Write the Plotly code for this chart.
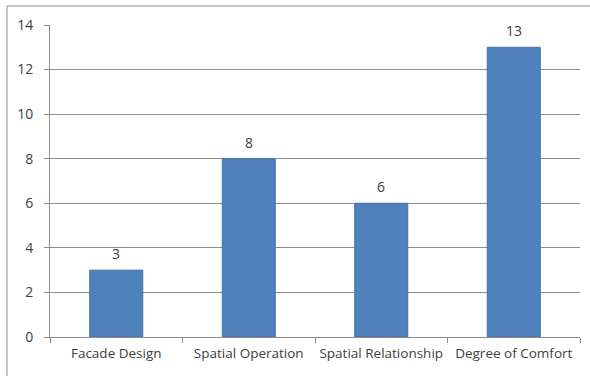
import plotly.graph_objects as go

categories = ["Facade Design", "Spatial Operation", "Spatial Relationship", "Degree of Comfort"]
values = [3, 8, 6, 13]
y_ticks = [0, 2, 4, 6, 8, 10, 12, 14]

W, H = 590, 376
L, R, T, B = 50, 10, 25, 39
pw, ph = W - L - R, H - T - B

fig = go.Figure(go.Bar(
    x=categories, y=values, width=0.4,
    marker=dict(color="#4F81BD", line=dict(color="#3F71AD", width=1)),
    cliponaxis=False,
))

for c, v in zip(categories, values):
    fig.add_annotation(x=c, y=v, text=str(v), showarrow=False,
                       yanchor="bottom", yshift=5,
                       font=dict(family="Open Sans", size=14, color="#404040"))

def px(x):
    return (x - L) / pw

def py(y):
    return (H - B - y) / ph

fig.add_shape(type="rect", xref="paper", yref="paper",
              x0=px(7), x1=px(596), y0=py(382), y1=py(6),
              line=dict(color="#8c8c8c", width=1), layer="below")

fig.update_layout(
    width=W, height=H, margin=dict(l=L, r=R, t=T, b=B),
    paper_bgcolor="white", plot_bgcolor="white",
    showlegend=False, bargap=0.6,
    font=dict(family="Open Sans", size=12, color="#404040"),
)
fig.update_xaxes(
    showline=True, linecolor="#8c8c8c", linewidth=1,
    ticks="outside", tickson="boundaries", ticklen=5, tickcolor="#8c8c8c",
    tickfont=dict(family="Open Sans", size=13.5, color="#404040"),
    tickangle=0, automargin=False,
    ticklabelstandoff=4,
    showgrid=False,
)
fig.update_yaxes(
    range=[0, 14], tickvals=y_ticks, automargin=False,
    showline=True, linecolor="#8c8c8c", linewidth=1,
    ticks="outside", ticklen=5, tickcolor="#8c8c8c",
    gridcolor="#8c8c8c", gridwidth=1, zeroline=False,
    tickfont=dict(family="Open Sans", size=14, color="#404040"),
    ticklabelstandoff=8,
)

fig.write_html("out.html")
